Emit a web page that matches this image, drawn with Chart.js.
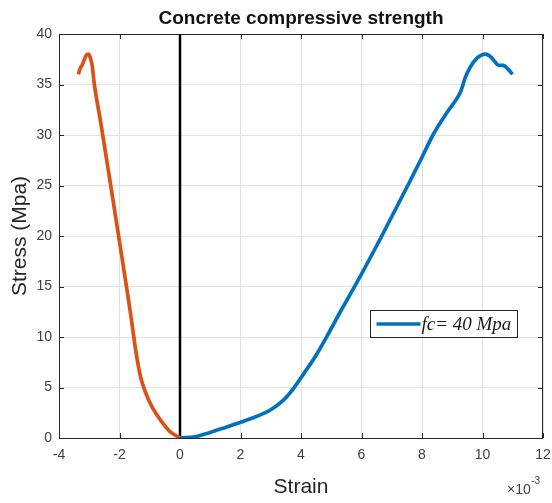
<!DOCTYPE html>
<html>
<head>
<meta charset="utf-8">
<script src="https://cdn.jsdelivr.net/npm/chart.js@4.4.0/dist/chart.umd.min.js"></script>
<style>
  html, body { margin: 0; padding: 0; background: #fff; }
  #wrap { width: 552px; height: 503px; }
</style>
</head>
<body>
<div id="wrap"><canvas id="chart" width="552" height="503"></canvas></div>
<script>
// strain in units of 1e-3, stress in MPa
const strainTicks = [-4, -2, 0, 2, 4, 6, 8, 10, 12];
const stressTicks = [0, 5, 10, 15, 20, 25, 30, 35, 40];

// left branch (negative strain), red
const leftStrain = [-3.36, -3.30, -3.24, -3.17, -3.10, -3.03, -2.96, -2.90, -2.84, -2.78, -2.63, -2.47, -2.29, -2.03, -1.77, -1.62, -1.45, -1.30, -1.15, -0.93, -0.65, -0.32, 0];
const leftStress = [36.0, 36.6, 36.9, 37.4, 37.9, 38.0, 37.6, 36.8, 35.2, 34.0, 31.4, 28.4, 25.0, 20.0, 15.0, 12.0, 8.4, 6.0, 4.6, 3.1, 1.8, 0.6, 0];

// right branch (positive strain), blue
const rightStrain = [0, 0.5, 1.0, 1.5, 2.0, 2.5, 3.0, 3.4, 3.75, 4.1, 4.5, 4.9, 5.3, 5.83, 6.67, 7.53, 7.95, 8.38, 8.82, 9.15, 9.28, 9.42, 9.59, 9.82, 10.09, 10.25, 10.40, 10.53, 10.68, 10.85, 10.99];
const rightStress = [0, 0.12, 0.55, 1.05, 1.55, 2.1, 2.8, 3.7, 4.9, 6.4, 8.2, 10.3, 12.5, 15.3, 20.0, 25.0, 27.5, 30.1, 32.2, 33.6, 34.3, 35.6, 36.7, 37.6, 38.0, 37.8, 37.3, 36.9, 36.9, 36.5, 36.0];

// vertical line at zero strain
const zeroStrain = [0, 0];
const zeroStress = [0, 40];

const seriesLabel = 'fc= 40 Mpa';

const sansFont = "Arial, 'Liberation Sans', Helvetica, sans-serif";
const axisColor = '#262626';
const gridColor = '#e2e2e2';

function toPoints(xs, ys) {
    return xs.map((x, i) => ({ x: x, y: ys[i] }));
}

// draws the MATLAB style box with inward ticks on all sides
const axesBox = {
    id: 'axesBox',
    beforeDatasetsDraw(chart) {
        const ctx = chart.ctx;
        const ca = chart.chartArea;
        const xs = chart.scales.x;
        const ys = chart.scales.y;
        const len = 5;
        ctx.save();
        ctx.strokeStyle = axisColor;
        ctx.lineWidth = 1;
        ctx.beginPath();
        strainTicks.forEach(v => {
            const px = Math.round(xs.getPixelForValue(v)) + 0.5;
            ctx.moveTo(px, ca.bottom);
            ctx.lineTo(px, ca.bottom - len);
            ctx.moveTo(px, ca.top);
            ctx.lineTo(px, ca.top + len);
        });
        stressTicks.forEach(v => {
            const py = Math.round(ys.getPixelForValue(v)) + 0.5;
            ctx.moveTo(ca.left, py);
            ctx.lineTo(ca.left + len, py);
            ctx.moveTo(ca.right, py);
            ctx.lineTo(ca.right - len, py);
        });
        ctx.stroke();
        ctx.strokeRect(Math.round(ca.left) + 0.5, Math.round(ca.top) + 0.5,
            Math.round(ca.right - ca.left) - 1, Math.round(ca.bottom - ca.top));
        ctx.restore();
    },
    afterDraw(chart) {
        const ctx = chart.ctx;
        const ca = chart.chartArea;
        ctx.save();

        // exponent note under the x axis
        ctx.fillStyle = '#404040';
        ctx.textBaseline = 'alphabetic';
        ctx.textAlign = 'left';
        ctx.font = '14px ' + sansFont;
        const ex = ca.right - 36;
        const ey = ca.bottom + 56;
        ctx.fillText('\u00d710', ex, ey);
        const w = ctx.measureText('\u00d710').width;
        ctx.font = '10px ' + sansFont;
        ctx.fillText('-3', ex + w + 0.5, ey - 10);

        // legend
        const ds = chart.data.datasets.find(d => d.label === seriesLabel);
        const bw = 147, bh = 27;
        const bx = Math.round(ca.right - 26 - bw) + 0.5;
        const by = Math.round(ca.bottom - 101 - bh) + 0.5;
        ctx.fillStyle = '#fff';
        ctx.fillRect(bx, by, bw, bh);
        ctx.strokeStyle = axisColor;
        ctx.lineWidth = 1;
        ctx.strokeRect(bx, by, bw, bh);
        ctx.strokeStyle = ds.borderColor;
        ctx.lineWidth = ds.borderWidth;
        ctx.beginPath();
        ctx.moveTo(bx + 6, by + 13.5);
        ctx.lineTo(bx + 50, by + 13.5);
        ctx.stroke();
        ctx.fillStyle = '#1a1a1a';
        ctx.font = "italic 19px 'Liberation Serif', 'Times New Roman', serif";
        ctx.textBaseline = 'middle';
        ctx.fillText(ds.label, bx + 51, by + 14.5);
        ctx.restore();
    }
};

const chart = new Chart(document.getElementById('chart').getContext('2d'), {
    type: 'scatter',
    data: {
        datasets: [
            {
                label: seriesLabel,
                data: toPoints(rightStrain, rightStress),
                showLine: true,
                borderColor: '#0072BD',
                borderWidth: 3.7,
                pointRadius: 0,
                cubicInterpolationMode: 'monotone',
                order: 1
            },
            {
                label: 'left',
                data: toPoints(leftStrain, leftStress),
                showLine: true,
                borderColor: '#D95319',
                borderWidth: 3.7,
                pointRadius: 0,
                cubicInterpolationMode: 'monotone',
                order: 2
            },
            {
                label: 'zero',
                data: toPoints(zeroStrain, zeroStress),
                showLine: true,
                borderColor: '#000000',
                borderWidth: 2.5,
                pointRadius: 0,
                order: 3
            }
        ]
    },
    options: {
        responsive: false,
        animation: false,
        devicePixelRatio: 1,
        layout: { padding: { left: 0, right: 9, top: 0, bottom: 0 } },
        plugins: {
            legend: { display: false },
            tooltip: { enabled: false },
            title: {
                display: true,
                text: 'Concrete compressive strength',
                fullSize: false,
                color: '#111',
                font: { family: sansFont, size: 19, weight: 'bold' },
                padding: { top: 7, bottom: 4.2 }
            }
        },
        scales: {
            x: {
                type: 'linear',
                min: -4,
                max: 12,
                afterBuildTicks: s => { s.ticks = strainTicks.map(v => ({ value: v })); },
                ticks: { color: '#404040', font: { family: sansFont, size: 14 }, padding: 9 },
                grid: { color: gridColor, drawTicks: false },
                border: { display: false },
                title: {
                    display: true,
                    text: 'Strain',
                    color: axisColor,
                    font: { family: sansFont, size: 21 },
                    padding: { top: 0, bottom: 3.4 }
                },
                afterFit: s => { s.height = 65; s.paddingLeft = 0; s.paddingRight = 0; }
            },
            y: {
                type: 'linear',
                min: 0,
                max: 40,
                afterBuildTicks: s => { s.ticks = stressTicks.map(v => ({ value: v })); },
                ticks: { color: '#404040', font: { family: sansFont, size: 14 }, padding: 7 },
                grid: { color: gridColor, drawTicks: false },
                border: { display: false },
                title: {
                    display: true,
                    text: 'Stress (Mpa)',
                    color: axisColor,
                    font: { family: sansFont, size: 21 },
                    padding: { top: 7.4, bottom: 0 }
                },
                afterFit: s => { s.width = 59; s.paddingTop = 0; s.paddingBottom = 0; }
            }
        }
    },
    plugins: [axesBox]
});
</script>
</body>
</html>
